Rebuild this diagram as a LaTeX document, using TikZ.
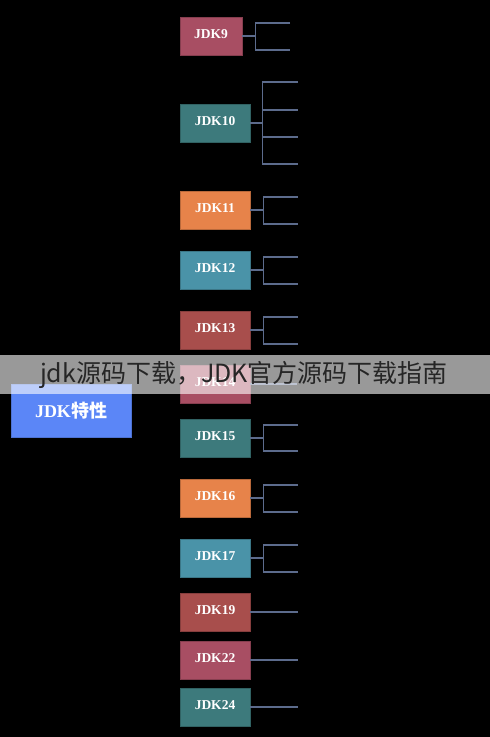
\documentclass[tikz,border=0pt]{standalone}
\usepackage{fontspec}
\setmainfont{Liberation Serif}
\newfontfamily\cjk{Noto Sans CJK SC}
\begin{document}
\begin{tikzpicture}[x=1pt,y=-1pt,
  ver/.style={draw=#1!80!black, fill=#1, line width=0.8pt, minimum width=70pt, minimum height=38pt,
    inner sep=0pt, text=white, text height=9.5pt, text depth=5pt, font=\fontsize{13.5}{14}\selectfont\bfseries},
  link/.style={draw=linkc, line width=1.7pt},
]
\definecolor{cpink}{HTML}{A84E63}
\definecolor{cteal}{HTML}{3D7A7C}
\definecolor{corange}{HTML}{E7834A}
\definecolor{cblue}{HTML}{4A93A8}
\definecolor{cred}{HTML}{A84E4C}
\definecolor{croyal}{HTML}{5B86F7}
\definecolor{linkc}{HTML}{5C6B8C}
\useasboundingbox (0,0) rectangle (490,737);
\fill[black] (0,0) rectangle (490,737);

% version nodes
\node[ver=cpink, minimum width=62pt] (j9) at (211,36) {JDK9};
\node[ver=cteal] (j10) at (215,123) {JDK10};
\node[ver=corange] (j11) at (215,210) {JDK11};
\node[ver=cblue] (j12) at (215,270) {JDK12};
\node[ver=cred] (j13) at (215,330) {JDK13};
\node[ver=cpink] (j14) at (215,384) {JDK14};
\node[ver=cteal] (j15) at (215,438) {JDK15};
\node[ver=corange] (j16) at (215,498) {JDK16};
\node[ver=cblue] (j17) at (215,558) {JDK17};
\node[ver=cred] (j19) at (215,612) {JDK19};
\node[ver=cpink] (j22) at (215,660) {JDK22};
\node[ver=cteal] (j24) at (215,707) {JDK24};

% branch ends
\coordinate (b9a) at (290,23);  \coordinate (b9b) at (290,50);
\coordinate (b10a) at (298,82); \coordinate (b10b) at (298,110);
\coordinate (b10c) at (298,137); \coordinate (b10d) at (298,164);
\coordinate (b11a) at (298,197); \coordinate (b11b) at (298,224);
\coordinate (b12a) at (298,257); \coordinate (b12b) at (298,284);
\coordinate (b13a) at (298,317); \coordinate (b13b) at (298,344);
\coordinate (b14) at (297,384);
\coordinate (b15a) at (298,425); \coordinate (b15b) at (298,451);
\coordinate (b16a) at (298,485); \coordinate (b16b) at (298,512);
\coordinate (b17a) at (298,545); \coordinate (b17b) at (298,572);
\coordinate (b19) at (298,612);
\coordinate (b22) at (298,660);
\coordinate (b24) at (298,707);

% connectors
\draw[link] (j9.east) -- ++(13,0) coordinate (s9);
\draw[link] (b9a) -- (s9 |- b9a) -- (s9 |- b9b) -- (b9b);

\draw[link] (j10.east) -- ++(12,0) coordinate (s10);
\draw[link] (b10a) -- (s10 |- b10a) -- (s10 |- b10d) -- (b10d);
\draw[link] (s10 |- b10b) -- (b10b);
\draw[link] (s10 |- b10c) -- (b10c);

\foreach \n in {11,12,13,15,16,17}{
  \draw[link] (j\n.east) -- ++(13,0) coordinate (s\n);
  \draw[link] (b\n a) -- (s\n |- b\n a) -- (s\n |- b\n b) -- (b\n b);
}

\draw[link] (j14.east) -- (b14);
\draw[link] (j19.east) -- (b19);
\draw[link] (j22.east) -- (b22);
\draw[link] (j24.east) -- (b24);

% root node
\node[draw=croyal!85!black, fill=croyal, line width=0.8pt, minimum width=120pt, minimum height=53pt,
  inner sep=0pt, text=white, font=\fontsize{18}{19}\selectfont\bfseries] (root) at (71,410.5)
  {JDK{\cjk 特性}};

% overlay banner
\fill[white, opacity=0.6] (0,355) rectangle (490,394);
\node[text=black!85, font=\cjk\fontsize{25}{26}\selectfont, inner sep=0pt] (banner) at (244,375)
  {jdk源码下载，JDK官方源码下载指南};
\end{tikzpicture}
\end{document}
